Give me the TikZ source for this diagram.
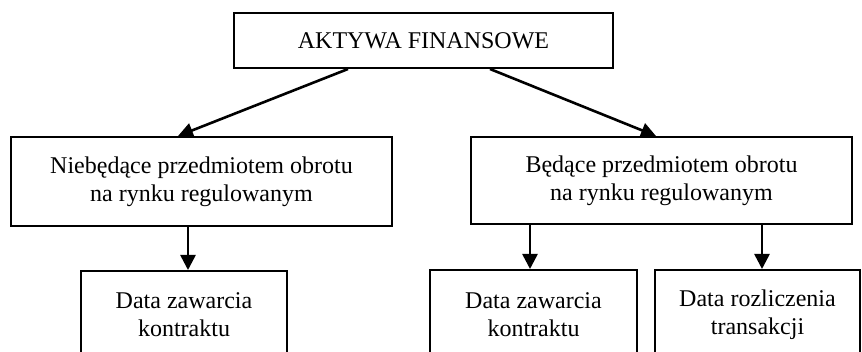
\documentclass[tikz,border=0pt]{standalone}
\usepackage{fontspec}
\setmainfont{Liberation Serif}
\usetikzlibrary{arrows.meta}
\begin{document}
\begin{tikzpicture}[x=1pt,y=-1pt,
		box/.style={draw,line width=2pt,align=center,inner sep=0pt,
			font=\fontsize{24}{28}\selectfont},
		arrow/.style={line width=2.6pt,-{Triangle[length=15pt,width=15pt]}}]
			% page
			\useasboundingbox	(0,0)	rectangle	(862,352);
			\clip	(0,0)	rectangle	(862,352);

			% top box
			\node[box, minimum width=379pt, minimum height=55pt]	(akt)	at (423.5,40.5)	{AKTYWA FINANSOWE};

			% middle boxes
			\node[box, minimum width=381pt, minimum height=89pt]	(nieb)	at (201.5,181.5)	{Niebędące przedmiotem obrotu\\na rynku regulowanym};
			\node[box, minimum width=381pt, minimum height=87pt]	(bed)	at (661.5,180.5)	{Będące przedmiotem obrotu\\na rynku regulowanym};

			% bottom boxes
			\node[box, minimum width=206pt, minimum height=88pt]	(zaw1)	at (184,315)	{Data zawarcia\\kontraktu};
			\node[box, minimum width=207pt, minimum height=90pt]	(zaw2)	at (533.5,315)	{Data zawarcia\\kontraktu};
			\node[box, minimum width=205pt, minimum height=90pt]	(rozl)	at (757.5,315)	{Data rozliczenia\\transakcji};

			% arrows
			\draw[arrow]	([xshift=-75.5pt]akt.south)	--	([xshift=-23.5pt]nieb.north);
			\draw[arrow]	([xshift=66.5pt]akt.south)	--	([xshift=-5.5pt]bed.north);
			\draw[arrow]	([xshift=4pt]zaw1.north |- nieb.south)	--	([xshift=4pt]zaw1.north);
			\draw[arrow]	([xshift=-3.5pt]zaw2.north |- bed.south)	--	([xshift=-3.5pt]zaw2.north);
			\draw[arrow]	([xshift=4.5pt]rozl.north |- bed.south)	--	([xshift=4.5pt]rozl.north);
\end{tikzpicture}
\end{document}
